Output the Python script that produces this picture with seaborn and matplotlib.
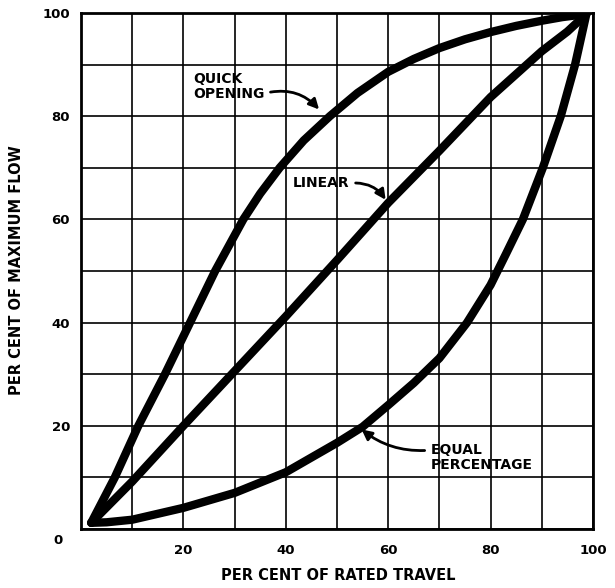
import pandas as pd
import numpy as np
import matplotlib
matplotlib.use('Agg')
import matplotlib.pyplot as plt
import seaborn as sns

# curves (per cent of rated travel vs per cent of max flow)
quick_x = [2, 6.6, 11.2, 16.4, 21.3, 26.2, 31.7, 35, 38.8, 43.5, 48.6, 54, 60, 65, 70, 75, 80, 85, 90, 94, 98.7]
quick_y = [1.2, 10, 20, 30, 40, 50, 60, 65, 70, 75.3, 80, 84.5, 88.6, 91.1, 93.2, 94.9, 96.3, 97.5, 98.5, 99.2, 99.8]

linear_x = [2, 10, 20, 30, 40, 50, 60, 70, 80, 90, 95, 98.7]
linear_y = [1.2, 9.2, 20, 30.6, 41.2, 52.1, 63.2, 73.3, 83.7, 92.6, 96.4, 99.8]

equal_x = [2, 5, 10, 20, 30, 40, 50, 55, 60, 65, 70, 75.4, 80, 83, 86.3, 90.2, 93.7, 96.5, 98.7]
equal_y = [1.2, 1.3, 1.8, 4.1, 7.0, 11, 16.7, 19.8, 24, 28.3, 33.1, 40, 47.3, 53.3, 60, 70, 80, 90, 99.8]

tick_vals = list(range(0, 101, 10))
tick_labels = ['', '', '20', '', '40', '', '60', '', '80', '', '100']

sns.set_style('white')
plt.rcParams['font.family'] = ['DejaVu Sans']
plt.rcParams['font.weight'] = 'bold'
plt.rcParams['text.color'] = 'black'
plt.rcParams['xtick.color'] = 'black'
plt.rcParams['ytick.color'] = 'black'

fig = plt.figure(figsize=(6.15, 5.88), dpi=100)
ax = fig.add_axes([81/615, 1 - 529/588, 512/615, 516/588])

for xs, ys in [(quick_x, quick_y), (linear_x, linear_y), (equal_x, equal_y)]:
    df = pd.DataFrame({'travel': xs, 'flow': ys})
    sns.lineplot(data=df, x='travel', y='flow', ax=ax, color='black', lw=6, sort=False)

ax.set_xlim(0, 100)
ax.set_ylim(0, 100)
ax.set_xticks(tick_vals)
ax.set_yticks(tick_vals)
ax.set_xticklabels(tick_labels, fontsize=9.5, fontweight='bold')
ax.set_yticklabels(tick_labels, fontsize=9.5, fontweight='bold')
ax.tick_params(length=0)
ax.tick_params(axis='x', pad=11)
ax.tick_params(axis='y', pad=8)
ax.grid(True, color='black', lw=1.2)
for s in ax.spines.values():
    s.set_color('black')
    s.set_linewidth(2)
ax.set_xlabel('')
ax.set_ylabel('')
ax.text(-0.045, -0.023, '0', transform=ax.transAxes, ha='center', va='center',
        fontsize=9.5, fontweight='bold')

# curve labels
ax.annotate('QUICK\nOPENING', xy=(46.5, 81.3), xytext=(21.9, 85.8), ha='left', va='center',
            fontsize=10, fontweight='bold', linespacing=1.05,
            arrowprops=dict(arrowstyle='-|>', color='black', lw=2, mutation_scale=15,
                            relpos=(1, 0.25), connectionstyle='arc3,rad=-0.3',
                            shrinkA=2, shrinkB=0))
ax.annotate('LINEAR', xy=(59.5, 63.8), xytext=(41.4, 67), ha='left', va='center',
            fontsize=10, fontweight='bold',
            arrowprops=dict(arrowstyle='-|>', color='black', lw=2, mutation_scale=15,
                            relpos=(1, 0.5), connectionstyle='arc3,rad=-0.3',
                            shrinkA=2, shrinkB=0))
ax.annotate('EQUAL\nPERCENTAGE', xy=(54.8, 19.3), xytext=(68.3, 13.9), ha='left', va='center',
            fontsize=10, fontweight='bold', linespacing=1.05,
            arrowprops=dict(arrowstyle='-|>', color='black', lw=2, mutation_scale=15,
                            relpos=(0, 0.75), connectionstyle='arc3,rad=-0.2',
                            shrinkA=2, shrinkB=0))

fig.text(338/615, 1 - 576/588, 'PER CENT OF RATED TRAVEL', ha='center', va='center',
         fontsize=10.5, fontweight='bold')
fig.text(17/615, 1 - 270/588, 'PER CENT OF MAXIMUM FLOW', ha='center', va='center',
         rotation=90, fontsize=10.5, fontweight='bold')

fig.savefig('out.png', dpi=100)
